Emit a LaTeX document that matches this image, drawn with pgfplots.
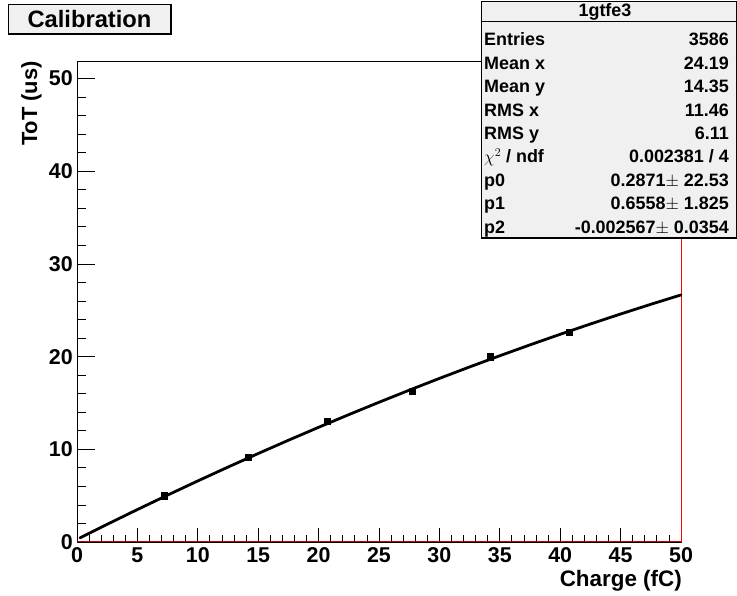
\documentclass[border=0pt]{standalone}
\usepackage{fontspec}
\setmainfont{Liberation Sans}
\usepackage{pgfplots}
\pgfplotsset{compat=1.18}
\definecolor{paneg}{HTML}{F0F0F0}
\begin{document}
\begin{tikzpicture}
\useasboundingbox (0,0) rectangle (737bp,596bp);
\begin{axis}[
 at={(77bp,54bp)}, anchor=south west,
 scale only axis, width=604bp, height=481bp,
 xmin=0, xmax=50, ymin=0, ymax=51.9,
 xtick={0,5,...,50}, ytick={0,10,...,50},
 minor x tick num=4, minor y tick num=4,
 tick align=inside, xtick pos=left, ytick pos=left,
 xtick style={/pgfplots/major tick length=14bp,/pgfplots/minor tick length=7bp, black, line width=0.8bp},
 ytick style={/pgfplots/major tick length=18bp,/pgfplots/minor tick length=9bp, black, line width=0.8bp},
 axis line style={black, line width=0.8bp},
 /pgf/number format/assume math mode=true,
 ticklabel style={font=\fontsize{21.5}{24}\selectfont\bfseries},
 xticklabel style={anchor=base, yshift=-21bp, inner sep=0pt},
 yticklabel style={anchor=east, inner sep=0pt, xshift=-4bp},
 clip=false,
]
\addplot[red, line width=0.9bp] coordinates {(50,0) (50,51.9)};
\addplot[red!80!black, line width=0.7bp] coordinates {(0,0.12) (50,0.12)};
\addplot[only marks, mark=square*, mark size=3.2bp, black] coordinates {
(7.23,5.0) (14.18,9.14) (20.7,13.05) (27.76,16.29) (34.19,19.99) (40.73,22.65)};
\addplot[black, line width=2.8bp, line join=round, line cap=round] coordinates {
(0.25,0.4509) (2.5,1.9106) (5,3.5019) (7.5,5.0612) (10,6.5884) (12.5,8.0835)
(15,9.5465) (17.5,10.9775) (20,12.3763) (22.5,13.7431) (25,15.0777) (27.5,16.3803)
(30,17.6508) (32.5,18.8892) (35,20.0955) (37.5,21.2698) (40,22.4119) (42.5,23.522)
(45,24.5999) (47.5,25.6458) (50,26.6596)};
\end{axis}
% axis titles
\node[rotate=90, anchor=east, inner sep=0pt, font=\fontsize{22}{24}\selectfont\bfseries] at (31.5bp,535bp) {ToT (us)};
\node[anchor=base east, inner sep=0pt, font=\fontsize{22.5}{24}\selectfont\bfseries] at (682bp,10bp) {Charge (fC)};
% title box
\fill[paneg] (8bp,562bp) rectangle (171bp,592bp);
\draw[line width=0.8bp] (8bp,562bp) rectangle (171bp,592bp);
\draw[line width=1.8bp] (9bp,562bp) -- (171bp,562bp) -- (171bp,591bp);
\node[anchor=base, inner sep=0pt, font=\fontsize{23.8}{26}\selectfont\bfseries] at (89.5bp,568.7bp) {Calibration};
% stats box
\fill[paneg] (481bp,358bp) rectangle (736.5bp,595bp);
\draw[line width=0.8bp] (481bp,358bp) rectangle (736.5bp,595bp);
\draw[line width=2bp] (482bp,358bp) -- (736.5bp,358bp);
\draw[line width=0.8bp] (481bp,575bp) -- (736.5bp,575bp);
\begin{scope}[every node/.style={inner sep=0pt, font=\fontsize{18}{20}\selectfont\bfseries}]
\node[anchor=base] at (605bp,579bp) {1gtfe3};
\node[anchor=base west] at (484bp,550bp) {Entries};
\node[anchor=base east] at (729bp,550bp) {3586};
\node[anchor=base west] at (484bp,526.6bp) {Mean x};
\node[anchor=base east] at (729bp,526.6bp) {24.19};
\node[anchor=base west] at (484bp,503.2bp) {Mean y};
\node[anchor=base east] at (729bp,503.2bp) {14.35};
\node[anchor=base west] at (484bp,479.8bp) {RMS x};
\node[anchor=base east] at (729bp,479.8bp) {11.46};
\node[anchor=base west] at (484bp,456.4bp) {RMS y};
\node[anchor=base east] at (729bp,456.4bp) {6.11};
\node[anchor=base west] at (484bp,433bp) {$\chi^{2}$ / ndf};
\node[anchor=base east] at (729bp,433bp) {0.002381 / 4};
\node[anchor=base west] at (484bp,409.6bp) {p0};
\node[anchor=base east] at (729bp,409.6bp) {0.2871$\pm$ 22.53};
\node[anchor=base west] at (484bp,386.2bp) {p1};
\node[anchor=base east] at (729bp,386.2bp) {0.6558$\pm$ 1.825};
\node[anchor=base west] at (484bp,362.8bp) {p2};
\node[anchor=base east] at (729bp,362.8bp) {-0.002567$\pm$ 0.0354};
\end{scope}
\end{tikzpicture}
\end{document}
